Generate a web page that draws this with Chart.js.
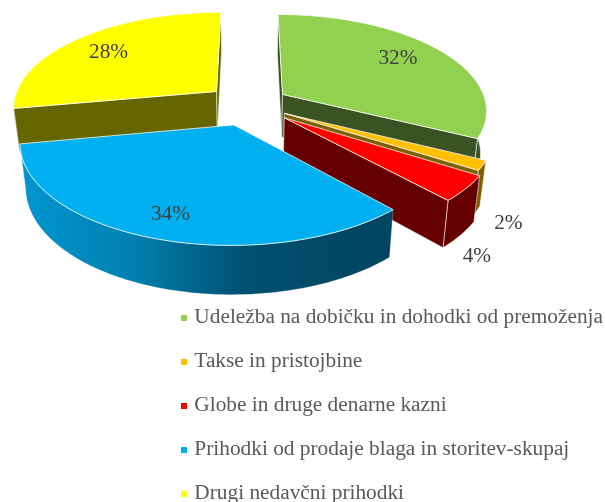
<!DOCTYPE html>
<html><head><meta charset="utf-8">
<style>html,body{margin:0;padding:0;background:#fff}canvas{display:block}</style>
<script src="https://cdn.jsdelivr.net/npm/chart.js@4/dist/chart.umd.js"></script>
</head><body>
<div style="width:605px;height:502px"><canvas id="c"></canvas></div>
<script>
const categories = ["Udeležba na dobičku in dohodki od premoženja","Takse in pristojbine","Globe in druge denarne kazni","Prihodki od prodaje blaga in storitev-skupaj","Drugi nedavčni prihodki"];
const shares = [32.4,1.6,4.2,33.9,27.9];
const topColors = ["#92D050","#FFC000","#FF0000","#00B0F0","#FFFF00"];
const wallColors = ["#3B5323","#7F6000","#660000","#004A68","#666600"];
const explodeBy = [40,40,45,46,43];
const drawOrder = [4,0,1,2,3];

const VIEW = {cx:249, cy:104, R:204, tilt:0.465, persp:0.00075, depth:43, shrink:0.975,
  labelReach:[0.62,1.0,1.0,0.62,0.62], labelNudge:[[16,-7],[26,58],[11,68],[-16,24],[-20,-5]]};
const LEGEND_BOTTOM = 527;
function project(u,v,low){
  const s = 1/(1-VIEW.persp*v);
  const k = low ? VIEW.shrink : 1;
  return {x:VIEW.cx+u*s*k, y:VIEW.cy+v*VIEW.tilt*s*k+(low?VIEW.depth*s:0)};
}
function area(pts){
  let a=0;pts.forEach((p,i)=>{const q=pts[(i+1)%pts.length];a+=p.x*q.y-q.x*p.y;});return a;
}
const pie3d = {
  id:'pie3d',
  afterLayout(chart){ chart.legend.bottom = LEGEND_BOTTOM; },
  beforeDatasetsDraw(chart){
    const ctx = chart.ctx, meta = chart.getDatasetMeta(0);
    const ds = chart.data.datasets[0];
    const total = ds.data.reduce((a,b)=>a+b,0);
    const geo = meta.data.map(arc=>{
      const p = arc.getProps(['startAngle','endAngle']);
      const mid = (p.startAngle+p.endAngle)/2;
      const off = arc.options.offset;
      return {a0:p.startAngle,a1:p.endAngle,mid,ox:Math.cos(mid)*off,oy:Math.sin(mid)*off,r:VIEW.R};
    });
    function rim(g,low,frontOnly){
      const pts=[]; const n=Math.max(4,Math.ceil((g.a1-g.a0)/0.02));
      for(let j=0;j<=n;j++){const t=g.a0+(g.a1-g.a0)*j/n;
        if(frontOnly && Math.sin(t)<0) continue;
        pts.push(project(g.ox+Math.cos(t)*g.r,g.oy+Math.sin(t)*g.r,low));}
      return pts;
    }
    function poly(pts,fill,edge){
      ctx.beginPath();pts.forEach((p,i)=>i?ctx.lineTo(p.x,p.y):ctx.moveTo(p.x,p.y));ctx.closePath();
      ctx.fillStyle=fill;ctx.fill();
      ctx.strokeStyle=edge;ctx.lineWidth=1;ctx.stroke();
    }
    ctx.save();ctx.lineJoin='round';
    drawOrder.forEach(i=>{
      const g=geo[i];
      const top=rim(g,false), low=rim(g,true);
      const ft=rim(g,false,true), fl=rim(g,true,true);
      const at=project(g.ox,g.oy,false), ab=project(g.ox,g.oy,true);
      const edge='rgba(255,255,255,0.55)';
      let wall=wallColors[i];
      if(i===3){
        wall=ctx.createLinearGradient(top[top.length-1].x,0,top[0].x,0);
        wall.addColorStop(0,'#0096D0');wall.addColorStop(0.3,'#0080B0');
        wall.addColorStop(0.6,'#00506F');wall.addColorStop(1,'#004460');
      }
      if(ft.length>1) poly(ft.concat(fl.slice().reverse()),wall,i===3?'rgba(255,255,255,0.25)':edge);
      const startFace=[at,top[0],low[0],ab], endFace=[at,top[top.length-1],low[low.length-1],ab];
      if(area(startFace)<0) poly(startFace,wallColors[i],edge);
      if(area(endFace)>0) poly(endFace,wallColors[i],edge);
      poly([at].concat(top),topColors[i],'rgba(255,255,255,0.75)');
    });
    ctx.font='21.33px "Liberation Serif"';ctx.fillStyle='#404040';ctx.textAlign='center';ctx.textBaseline='middle';
    geo.forEach((g,i)=>{
      const f=VIEW.labelReach[i]*VIEW.R, n=VIEW.labelNudge[i];
      const p=project(g.ox+Math.cos(g.mid)*f,g.oy+Math.sin(g.mid)*f,false);
      ctx.fillText(Math.round(ds.data[i]/total*100)+'%',p.x+n[0],p.y+n[1]);
    });
    ctx.restore();
    return false;
  }
};
function swatch(color){
  const c=document.createElement('canvas');c.width=6;c.height=6;
  const x=c.getContext('2d');x.fillStyle=color;x.fillRect(0,0,6,6);return c;
}
new Chart(document.getElementById('c'),{
  type:'pie',
  data:{labels:categories,datasets:[{data:shares,backgroundColor:topColors,offset:explodeBy,borderWidth:0}]},
  options:{
    responsive:true,maintainAspectRatio:false,animation:false,
    layout:{padding:{left:161}},
    plugins:{
      tooltip:{enabled:false},
      legend:{position:'chartArea',align:'end',
        labels:{font:{family:'"Liberation Serif"',size:21.33},color:'#595959',padding:22.67,boxWidth:0.01,boxHeight:6,usePointStyle:true,pointStyleWidth:0.01,
          generateLabels(chart){
            return Chart.overrides.pie.plugins.legend.labels.generateLabels(chart)
              .map((it,i)=>Object.assign(it,{pointStyle:swatch(topColors[i])}));
          }}}
    }
  },
  plugins:[pie3d]
});
</script>
</body></html>
